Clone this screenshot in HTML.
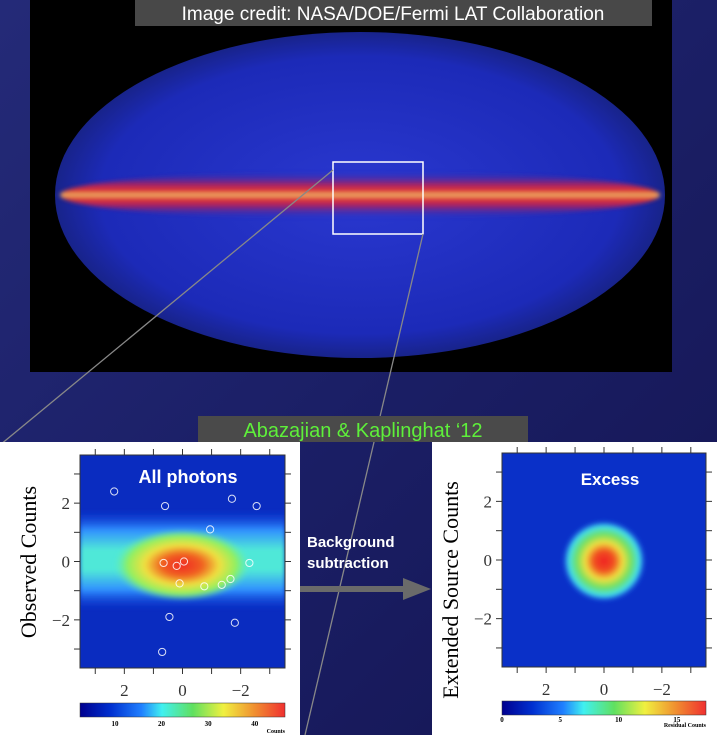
<!DOCTYPE html>
<html><head><meta charset="utf-8"><style>
html,body{margin:0;padding:0;width:717px;height:735px;overflow:hidden;background:#1c1f66;font-family:"Liberation Sans",sans-serif}
svg{display:block}
</style></head><body>
<svg width="717" height="735" viewBox="0 0 717 735" xmlns="http://www.w3.org/2000/svg">
<defs>
<linearGradient id="bg" x1="0" y1="0" x2="1" y2="1"><stop offset="0" stop-color="#242a78"/><stop offset="0.5" stop-color="#1b1f66"/><stop offset="1" stop-color="#141552"/></linearGradient>
<radialGradient id="sky" cx="0.5" cy="0.5" r="0.5"><stop offset="0" stop-color="#2a38d0"/><stop offset="0.85" stop-color="#1c2ab8"/><stop offset="1" stop-color="#18238a"/></radialGradient>
<linearGradient id="band" x1="0" y1="0" x2="0" y2="1"><stop offset="0" stop-color="#2030c0" stop-opacity="0"/><stop offset="0.3" stop-color="#c02050"/><stop offset="0.44" stop-color="#ff4020"/><stop offset="0.5" stop-color="#ffe070"/><stop offset="0.56" stop-color="#ff4020"/><stop offset="0.7" stop-color="#c02050"/><stop offset="1" stop-color="#2030c0" stop-opacity="0"/></linearGradient>
<linearGradient id="jet" x1="0" y1="0" x2="1" y2="0"><stop offset="0" stop-color="#00008f"/><stop offset="0.15" stop-color="#0030d0"/><stop offset="0.3" stop-color="#2080ff"/><stop offset="0.4" stop-color="#40f0f0"/><stop offset="0.55" stop-color="#60e060"/><stop offset="0.7" stop-color="#f0f040"/><stop offset="0.85" stop-color="#f09030"/><stop offset="1" stop-color="#f03030"/></linearGradient>
<radialGradient id="coreL" cx="0.5" cy="0.5" r="0.5"><stop offset="0" stop-color="#f02a20"/><stop offset="0.3" stop-color="#f06020"/><stop offset="0.55" stop-color="#f0e040"/><stop offset="0.8" stop-color="#90f060"/><stop offset="1" stop-color="#60f0b0" stop-opacity="0"/></radialGradient>
<linearGradient id="bandL" x1="0" y1="0" x2="0" y2="1"><stop offset="0" stop-color="#1040e0" stop-opacity="0"/><stop offset="0.2" stop-color="#3090ff"/><stop offset="0.4" stop-color="#50e8d8"/><stop offset="0.6" stop-color="#50e8d8"/><stop offset="0.8" stop-color="#3090ff"/><stop offset="1" stop-color="#1040e0" stop-opacity="0"/></linearGradient>
<radialGradient id="coreR" cx="0.5" cy="0.5" r="0.5"><stop offset="0" stop-color="#f02020"/><stop offset="0.25" stop-color="#f05020"/><stop offset="0.45" stop-color="#f0e040"/><stop offset="0.65" stop-color="#70e060"/><stop offset="0.85" stop-color="#40e0f0"/><stop offset="1" stop-color="#2050f0" stop-opacity="0"/></radialGradient>
<filter id="blur2"><feGaussianBlur stdDeviation="2"/></filter>
<clipPath id="clipL"><rect x="80" y="455" width="205" height="213"/></clipPath>
<clipPath id="clipR"><rect x="502" y="453" width="204" height="214"/></clipPath>
</defs>
<rect width="717" height="735" fill="url(#bg)"/>
<rect x="30" y="0" width="642" height="372" fill="#000"/>
<ellipse cx="360" cy="195" rx="305" ry="163" fill="url(#sky)"/>
<ellipse cx="360" cy="195" rx="300" ry="24" fill="url(#band)" opacity="0.9" filter="url(#blur2)"/>
<rect x="135" y="0" width="517" height="26" fill="#505050" opacity="0.9"/>
<text x="393" y="20" font-size="19" fill="#fff" text-anchor="middle">Image credit: NASA/DOE/Fermi LAT Collaboration</text>
<rect x="333" y="162" width="90" height="72" fill="none" stroke="#fff" stroke-width="1.5"/>
<line x1="333" y1="170" x2="0" y2="445" stroke="#888" stroke-width="1.3"/>
<line x1="423" y1="234" x2="305" y2="735" stroke="#888" stroke-width="1.3"/>
<rect x="198" y="416" width="330" height="26" fill="#4a4a4a"/>
<text x="363" y="437" font-size="20" fill="#5ef03a" text-anchor="middle">Abazajian &amp; Kaplinghat ‘12</text>
<!-- left panel -->
<rect x="0" y="442" width="300" height="293" fill="#fff"/>
<g clip-path="url(#clipL)">
<rect x="80" y="455" width="205" height="213" fill="#0a2cc0"/>
<rect x="80" y="510" width="205" height="100" fill="url(#bandL)" filter="url(#blur2)"/>
<ellipse cx="182" cy="565" rx="68" ry="36" fill="url(#coreL)" filter="url(#blur2)"/>
</g>
<g id="circL"></g>
<text x="188" y="483" font-size="18" font-weight="bold" fill="#fff" text-anchor="middle">All photons</text>
<rect x="80" y="455" width="205" height="213" fill="none" stroke="#333" stroke-width="1"/>
<g id="axL"></g>
<text transform="translate(36,562) rotate(-90)" font-family="Liberation Serif,serif" font-size="22" fill="#000" text-anchor="middle">Observed Counts</text>
<rect x="80" y="703" width="205" height="14" fill="url(#jet)" stroke="#333" stroke-width="0.5"/>
<g id="cbL"></g>
<text x="285" y="733" font-family="Liberation Serif,serif" font-size="6" font-weight="bold" text-anchor="end">Counts</text>
<!-- arrow -->
<text x="307" y="547" font-size="15" font-weight="bold" fill="#fff"><tspan x="307">Background</tspan><tspan x="307" dy="21">subtraction</tspan></text>
<rect x="300" y="586" width="105" height="6" fill="#6a6a6a"/>
<polygon points="403,578 431,589 403,600" fill="#6a6a6a"/>
<!-- right panel -->
<rect x="432" y="442" width="285" height="293" fill="#fff"/>
<g clip-path="url(#clipR)">
<rect x="502" y="453" width="204" height="214" fill="#0a30c8"/>
<ellipse cx="604" cy="561" rx="42" ry="41" fill="url(#coreR)" filter="url(#blur2)"/>
</g>
<text x="610" y="485" font-size="17" font-weight="bold" fill="#fff" text-anchor="middle">Excess</text>
<rect x="502" y="453" width="204" height="214" fill="none" stroke="#333" stroke-width="1"/>
<g id="axR"></g>
<text transform="translate(458,590) rotate(-90)" font-family="Liberation Serif,serif" font-size="22" fill="#000" text-anchor="middle">Extended Source Counts</text>
<rect x="502" y="701" width="204" height="14" fill="url(#jet)" stroke="#333" stroke-width="0.5"/>
<g id="cbR"></g>
<text x="706" y="727" font-family="Liberation Serif,serif" font-size="6" font-weight="bold" text-anchor="end">Residual Counts</text>
</svg>
<script>
const axisTicks=[2,0,-2];
const srcX=[2.35,0.6,-1.7,-2.55,-0.95,0.65,0.2,-0.05,0.1,-0.75,-1.35,-1.65,-2.3,0.45,-1.8,0.7];
const srcY=[2.4,1.9,2.15,1.9,1.1,-0.05,-0.15,0,-0.75,-0.85,-0.8,-0.6,-0.05,-1.9,-2.1,-3.1];
const cbLTicks=[10,20,30,40];
const cbRTicks=[0,5,10,15];
const NS="http://www.w3.org/2000/svg";
function mk(tag,attrs,parent){const e=document.createElementNS(NS,tag);for(const k in attrs)e.setAttribute(k,attrs[k]);parent.appendChild(e);return e;}
function axes(gid,x0,y0,w,h){
  const g=document.getElementById(gid);
  const cx=x0+w/2, cy=y0+h/2, su=w/7.05, sv=h/7.3;
  const X=v=>cx-v*su, Y=v=>cy-v*sv;
  for(let v=-3;v<=3;v++){
    let t=mk('line',{x1:X(v),y1:y0-6,x2:X(v),y2:y0,stroke:'#333'},g);
    
    
    t=mk('line',{x1:X(v),y1:y0+h,x2:X(v),y2:y0+h+6,stroke:'#333'},g);
    
    
    t=mk('line',{x1:x0-6,y1:Y(v),x2:x0,y2:Y(v),stroke:'#333'},g);
    
    
    t=mk('line',{x1:x0+w,y1:Y(v),x2:x0+w+6,y2:Y(v),stroke:'#333'},g);
    
    
  }
  axisTicks.forEach(v=>{
    const lab=v<0?'\u2212'+(-v):String(v);
    let t=mk('text',{x:X(v),y:y0+h+28,'font-family':'Liberation Serif,serif','font-size':17,'text-anchor':'middle',fill:'#333'},g);
    t.textContent=lab;
    
    
    t=mk('text',{x:x0-10,y:Y(v)+6,'font-family':'Liberation Serif,serif','font-size':17,'text-anchor':'end',fill:'#333'},g);
    t.textContent=lab;
    
    
  });
  return {X,Y};
}
const L=axes('axL',80,455,205,213);
axes('axR',502,453,204,214);
const cg=document.getElementById('circL');
srcX.forEach((v,i)=>{
  const c=mk('circle',{cx:L.X(v),cy:L.Y(srcY[i]),r:3.6,fill:'none',stroke:'#fff','stroke-width':1,opacity:0.85},cg);
  
  
});
function cbar(gid,x0,w,y,ticks,vmin,vmax){
  const g=document.getElementById(gid);
  ticks.forEach(v=>{
    const x=x0+(v-vmin)/(vmax-vmin)*w;
    const t=mk('text',{x:x,y:y,'font-family':'Liberation Serif,serif','font-size':7,'font-weight':'bold','text-anchor':'middle',fill:'#000'},g);
    t.textContent=v;
    
    
  });
}
cbar('cbL',80,205,726,cbLTicks,2.5,46.5);
cbar('cbR',502,204,722,cbRTicks,0,17.5);
</script>
</body></html>
